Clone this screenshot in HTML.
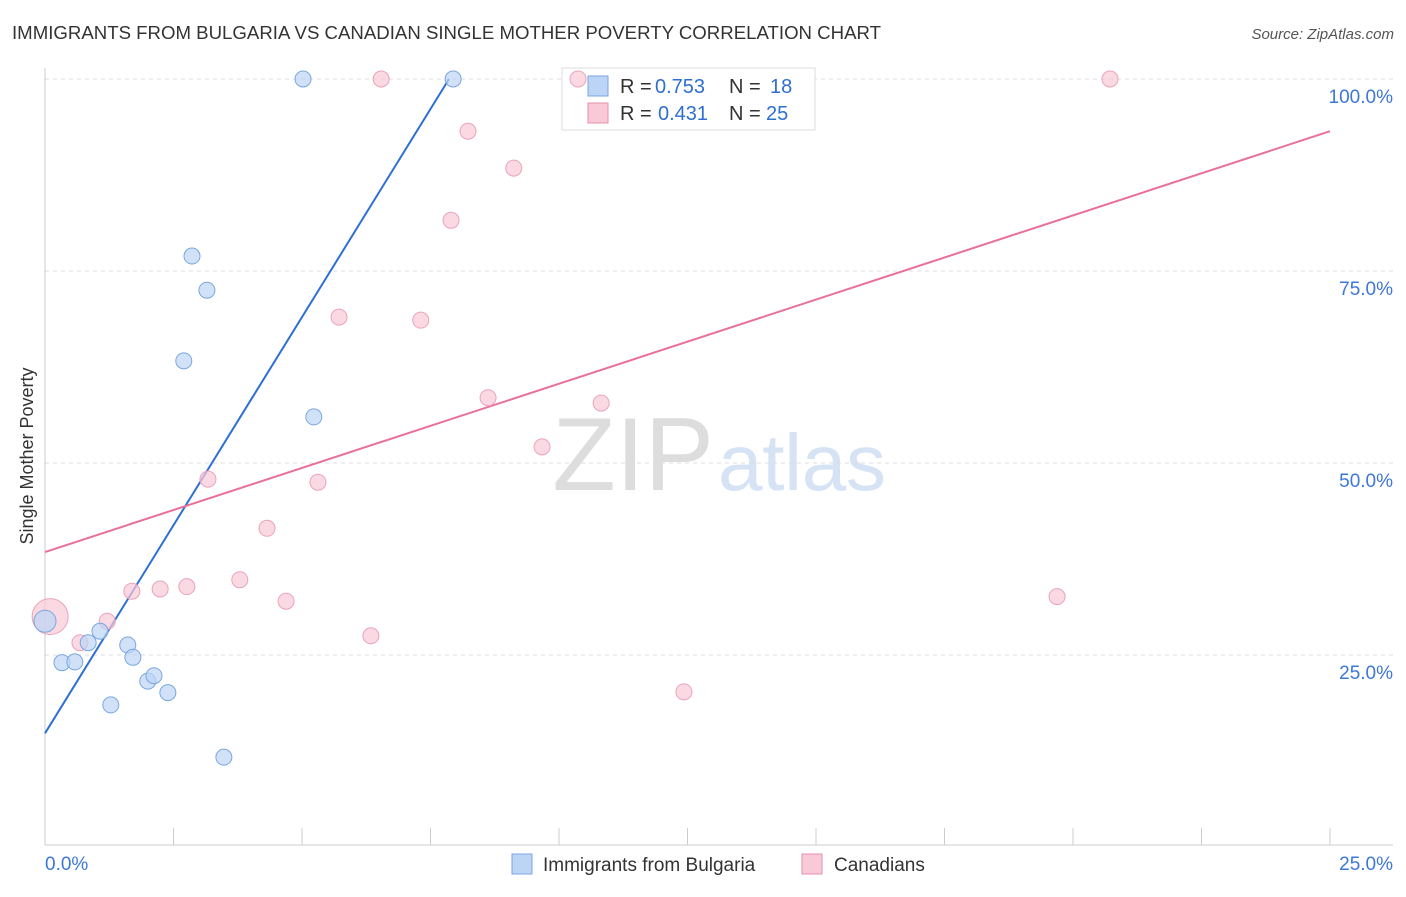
<!DOCTYPE html>
<html><head><meta charset="utf-8"><style>
body{margin:0;background:#fff;font-family:"Liberation Sans",sans-serif}
svg text{font-family:"Liberation Sans",sans-serif}
</style></head><body>
<svg id="chart" width="1406" height="892">
<text x="12" y="39" font-size="18" fill="#333" textLength="869" lengthAdjust="spacingAndGlyphs">IMMIGRANTS FROM BULGARIA VS CANADIAN SINGLE MOTHER POVERTY CORRELATION CHART</text>
<text x="1394" y="39" font-size="15" fill="#555" font-style="italic" text-anchor="end">Source: ZipAtlas.com</text>
<text x="33" y="456" font-size="18" fill="#333" text-anchor="middle" transform="rotate(-90 33 456)">Single Mother Poverty</text>
<text x="714" y="490" font-size="104" fill="#ddd" text-anchor="end" font-family="Liberation Serif">ZIP</text>
<text x="718" y="490" font-size="80" fill="#d5e3f5" textLength="168">atlas</text>
<g id="grid"></g><g id="axes"></g>
<g>
<rect x="562" y="68" width="253" height="62" fill="#fff" stroke="#ddd"/>
<rect x="588" y="76" width="20" height="20" fill="#bcd4f5" stroke="#7aa6e0"/>
<text x="620" y="93" font-size="20" fill="#333">R =</text><text x="655" y="93" font-size="20" fill="#2e6fd0">0.753</text>
<text x="729" y="93" font-size="20" fill="#333">N =</text><text x="770" y="93" font-size="20" fill="#2e6fd0">18</text>
<rect x="588" y="103" width="20" height="20" fill="#f9c9d7" stroke="#e88fab"/>
<text x="620" y="120" font-size="20" fill="#333">R =</text><text x="658" y="120" font-size="20" fill="#2e6fd0">0.431</text>
<text x="729" y="120" font-size="20" fill="#333">N =</text><text x="766" y="120" font-size="20" fill="#2e6fd0">25</text>
</g>
<g id="lines"></g><g id="pts"></g>
<g>
<rect x="512" y="854" width="20" height="20" fill="#bcd4f5" stroke="#7aa6e0"/>
<text x="543" y="871" font-size="19" fill="#333">Immigrants from Bulgaria</text>
<rect x="802" y="854" width="20" height="20" fill="#f9c9d7" stroke="#e88fab"/>
<text x="834" y="871" font-size="19" fill="#333">Canadians</text>
</g>
</svg>
<script>
const blueX=[5.02,7.94,2.86,3.15,2.70,5.23,0,0.84,1.07,1.61,1.71,0.33,0.58,2.00,2.12,2.39,1.28,3.48];
const blueY=[100,100,76.95,72.5,63.3,56.0,29.4,26.6,28.1,26.3,24.7,24.0,24.1,21.6,22.3,20.1,18.5,11.7];
const pinkX=[6.54,10.37,20.72,8.23,9.12,7.90,5.72,7.31,8.62,10.82,9.67,3.17,5.31,4.32,3.79,2.76,2.24,1.69,4.69,19.69,1.21,0.68,6.34,12.43,0.1];
const pinkY=[100,100,100,93.2,88.4,81.6,69.0,68.6,58.5,57.8,52.1,47.9,47.5,41.5,34.8,33.9,33.6,33.3,32.0,32.6,29.4,26.6,27.5,20.2,30.0];
const blueLine=[14.8,100,7.86];
const pinkLine=[38.4,93.2,25];
const yTicks=[25,50,75,100];
const xTickLabels=["0.0%","25.0%"];
const NS="http://www.w3.org/2000/svg";
const sx=v=>45+v/25*1285, sy=v=>847-v/100*768;
function mk(t,a,p){const e=document.createElementNS(NS,t);for(const k in a)e.setAttribute(k,a[k]);document.getElementById(p).appendChild(e);return e;}
yTicks.forEach(v=>{
 const l=mk('line',{x1:45,x2:1393,y1:sy(v),y2:sy(v),stroke:'#ddd','stroke-dasharray':'4,4'},'grid');
 
 
 const t=mk('text',{x:1393,y:sy(v)+24,'font-size':19,fill:'#3d78d6','text-anchor':'end'},'grid');t.textContent=v.toFixed(1)+'%';
 
 
});
mk('line',{x1:45,x2:45,y1:68,y2:845,stroke:'#ccc'},'axes');
mk('line',{x1:45,x2:1393,y1:845,y2:845,stroke:'#ccc'},'axes');
for(let i=0;i<=10;i++){const x=sx(i*2.5);const l=mk('line',{x1:x,x2:x,y1:828,y2:845,stroke:'#ccc'},'axes');
 
 }
let t=mk('text',{x:45,y:870,'font-size':19,fill:'#3d78d6'},'axes');t.textContent=xTickLabels[0];


t=mk('text',{x:1393,y:870,'font-size':19,fill:'#3d78d6','text-anchor':'end'},'axes');t.textContent=xTickLabels[1];


let l=mk('line',{x1:sx(0),y1:sy(blueLine[0]),x2:sx(blueLine[2]),y2:sy(blueLine[1]),stroke:'#2e6fd6','stroke-width':2},'lines');


l=mk('line',{x1:sx(0),y1:sy(pinkLine[0]),x2:sx(pinkLine[2]),y2:sy(pinkLine[1]),stroke:'#e8709a','stroke-width':2},'lines');


pinkX.forEach((x,i)=>{const r=i===pinkX.length-1?18:8;
 const c=mk('circle',{cx:sx(x),cy:sy(pinkY[i]),r:r,fill:'#f9c9d7','fill-opacity':0.7,stroke:'#eaa3ba'},'pts');
 
 });
blueX.forEach((x,i)=>{const r=i===6?11:8;
 const c=mk('circle',{cx:sx(x),cy:sy(blueY[i]),r:r,fill:'#bcd4f5','fill-opacity':0.7,stroke:'#7aa6e0'},'pts');
 
 });
</script>
</body></html>
